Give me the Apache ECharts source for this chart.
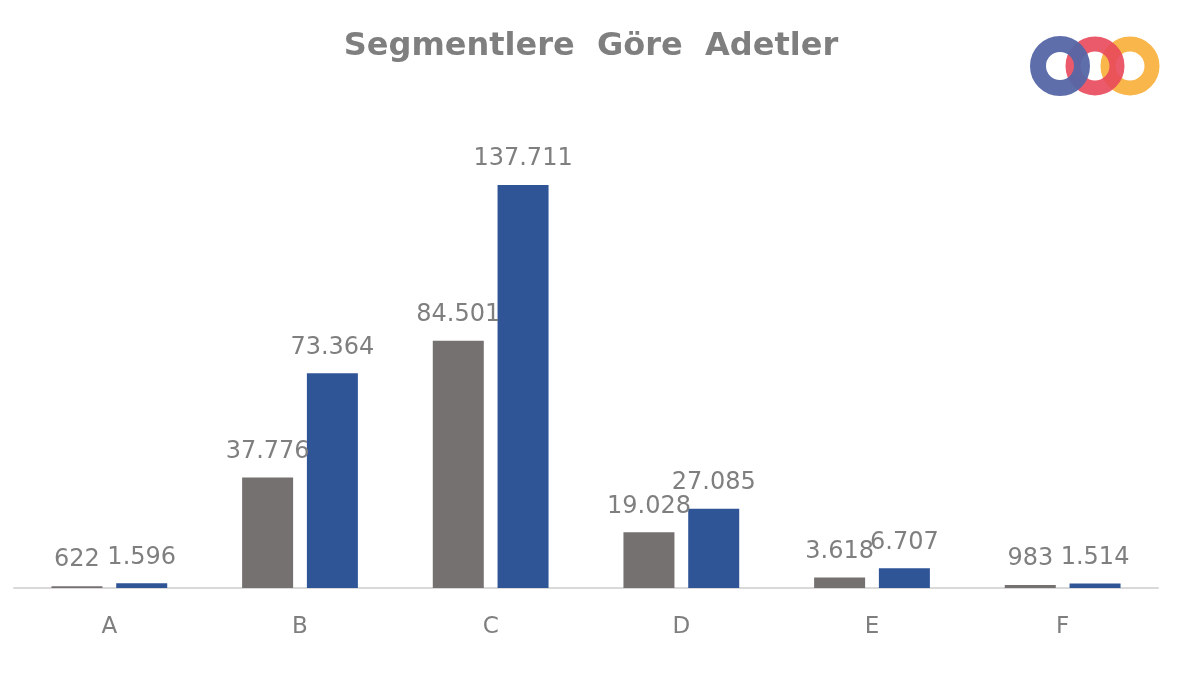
<!DOCTYPE html>
<html><head><meta charset="utf-8">
<script src="https://cdn.jsdelivr.net/npm/echarts@6/dist/echarts.min.js"></script>
<style>html,body{margin:0;background:#fff}#c{width:1200px;height:675px}</style>
</head><body><div id="c"></div>
<script>
const categories = ['A','B','C','D','E','F'];
const series1 = [622, 37776, 84501, 19028, 3618, 983];
const series2 = [1596, 73364, 137711, 27085, 6707, 1514];
const fmt = v => v.value.toString().replace(/\B(?=(\d{3})+(?!\d))/g, '.');
const chart = echarts.init(document.getElementById('c'));
const F = '"DejaVu Sans", sans-serif';
const lbl = {show:true, position:'top', distance:14, color:'#7f7f7f', fontSize:24, fontFamily:F, formatter:fmt};
chart.setOption({
  animation:false,
  title:{text:'Segmentlere  Göre  Adetler', left:586, top:26, textAlign:'center',
    textStyle:{color:'#7f7f7f', fontSize:32, fontWeight:'bold', fontFamily:F}},
  grid:{left:14, right:42, top:149, bottom:87},
  xAxis:{type:'category', data:categories, axisTick:{show:false},
    axisLine:{lineStyle:{color:'#d9d9d9', width:2}},
    axisLabel:{color:'#7f7f7f', fontSize:23, margin:28, fontFamily:F}},
  yAxis:{type:'value', min:0, max:150000, show:false, splitLine:{show:false}},
  series:[
    {type:'bar', data:series1, barWidth:51, barGap:'27%', itemStyle:{color:'#767171'}, label:lbl},
    {type:'bar', data:series2, barWidth:51, itemStyle:{color:'#2f5597'}, label:lbl}
  ],
  graphic:[
    {type:'circle', shape:{cx:1130,cy:66,r:22}, style:{fill:'none', stroke:'#f9b64a', lineWidth:15}},
    {type:'circle', shape:{cx:1095,cy:66,r:22}, style:{fill:'none', stroke:'#e8485a', lineWidth:15, opacity:0.9}},
    {type:'circle', shape:{cx:1060,cy:66,r:22}, style:{fill:'none', stroke:'#5566a6', lineWidth:16, opacity:0.95}}
  ]
});
</script></body></html>
